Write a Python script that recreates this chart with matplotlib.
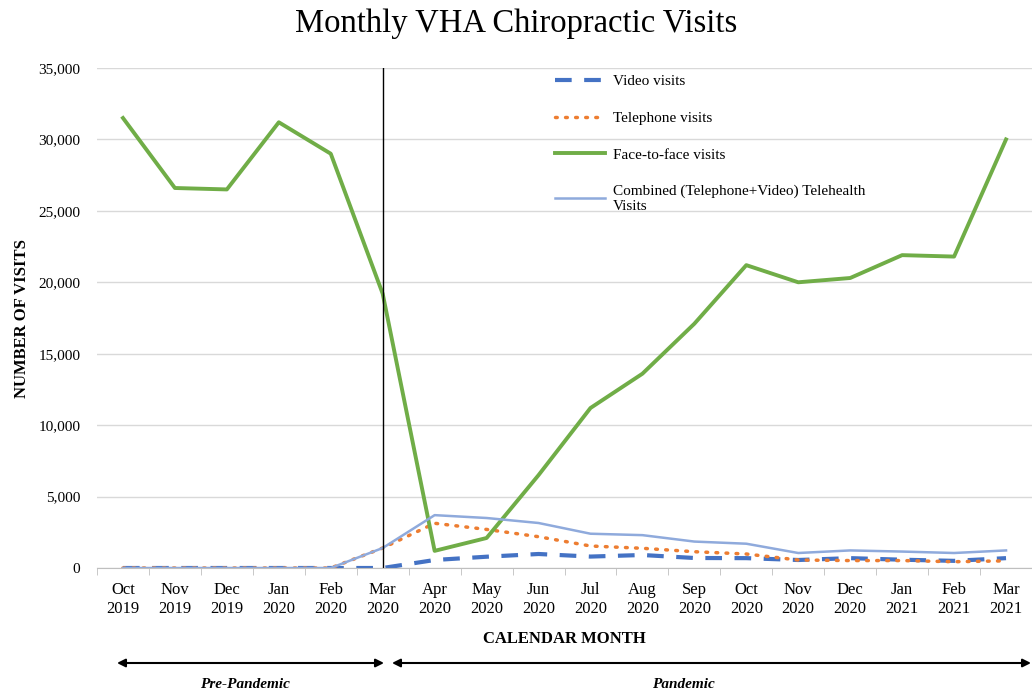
import matplotlib.pyplot as plt
import numpy as np

months = ['Oct\n2019', 'Nov\n2019', 'Dec\n2019', 'Jan\n2020', 'Feb\n2020', 'Mar\n2020',
          'Apr\n2020', 'May\n2020', 'Jun\n2020', 'Jul\n2020', 'Aug\n2020', 'Sep\n2020',
          'Oct\n2020', 'Nov\n2020', 'Dec\n2020', 'Jan\n2021', 'Feb\n2021', 'Mar\n2021']
video = [0, 0, 0, 0, 0, 0, 560, 790, 980, 800, 910, 700, 690, 560, 690, 580, 500, 690]
telephone = [0, 0, 0, 0, 0, 1400, 3130, 2700, 2190, 1540, 1380, 1140, 980, 560, 520, 520, 440, 500]
face = [31500, 26600, 26500, 31200, 29000, 19200, 1200, 2100, 6500, 11200, 13600, 17100,
        21200, 20000, 20300, 21900, 21800, 30000]
combined = [0, 0, 0, 0, 0, 1400, 3700, 3500, 3150, 2400, 2300, 1850, 1700, 1050, 1230, 1150, 1050, 1230]

plt.rcParams['font.family'] = ['Liberation Serif', 'DejaVu Serif']

fig = plt.figure(figsize=(10.32, 6.92), dpi=100)
ax = fig.add_axes([97/1032, 1-568/692, 1-97/1032, 500/692])

x = np.arange(len(months))
ax.plot(x, video, color='#4472C4', lw=3, ls=(0, (4, 3)), label='Video visits')
ax.plot(x, telephone, color='#ED7D31', lw=2.5, ls=(0, (0.5, 2.4)), dash_capstyle='round', label='Telephone visits')
ax.plot(x, face, color='#70AD47', lw=2.8, label='Face-to-face visits')
ax.plot(x, combined, color='#8FAADC', lw=1.8, label='Combined (Telephone+Video) Telehealth\nVisits')
ax.axvline(5, color='black', lw=1)

ax.set_xlim(-0.5, len(months) - 0.5)
ax.set_ylim(0, 35000)
ax.set_yticks(range(0, 35001, 5000))
ax.set_yticklabels([f'{v:,}' for v in range(0, 35001, 5000)], fontsize=11)
ax.grid(axis='y', color='#d9d9d9', lw=1)
ax.set_axisbelow(True)
ax.tick_params(axis='y', length=0, pad=12)
ax.set_xticks(x)
ax.set_xticklabels(months, fontsize=12, linespacing=1.25)
ax.set_xticks(np.arange(-0.5, len(months), 1), minor=True)
ax.tick_params(axis='x', which='major', length=0, pad=10)
ax.tick_params(axis='x', which='minor', length=5, color='#bfbfbf')
for s in ['top', 'right', 'left']:
    ax.spines[s].set_visible(False)
ax.spines['bottom'].set_color('#bfbfbf')

ax.set_ylabel('NUMBER OF VISITS', fontsize=12, fontweight='bold', labelpad=6)
ax.set_xlabel('CALENDAR MONTH', fontsize=12, fontweight='bold', labelpad=10)
fig.text(0.5, 1-24/692, 'Monthly VHA Chiropractic Visits', ha='center', va='center', fontsize=23.5)

ax.legend(loc='upper left', bbox_to_anchor=(0.48, 1.005), frameon=False, fontsize=11,
          handlelength=3.3, handletextpad=0.5, labelspacing=1.5, borderaxespad=0.2)

ax.annotate('', xy=(117/1032, 1-663/692), xytext=(384/1032, 1-663/692), xycoords='figure fraction',
            arrowprops=dict(arrowstyle='<|-|>', color='black', lw=1.5, mutation_scale=12, shrinkA=0, shrinkB=0))
ax.annotate('', xy=(392/1032, 1-663/692), xytext=(1031/1032, 1-663/692), xycoords='figure fraction',
            arrowprops=dict(arrowstyle='<|-|>', color='black', lw=1.5, mutation_scale=12, shrinkA=0, shrinkB=0))
fig.text(245/1032, 1-684/692, 'Pre-Pandemic', ha='center', va='center', fontsize=11, fontweight='bold', style='italic')
fig.text(683/1032, 1-684/692, 'Pandemic', ha='center', va='center', fontsize=11, fontweight='bold', style='italic')

plt.savefig('out.png', dpi=100)
